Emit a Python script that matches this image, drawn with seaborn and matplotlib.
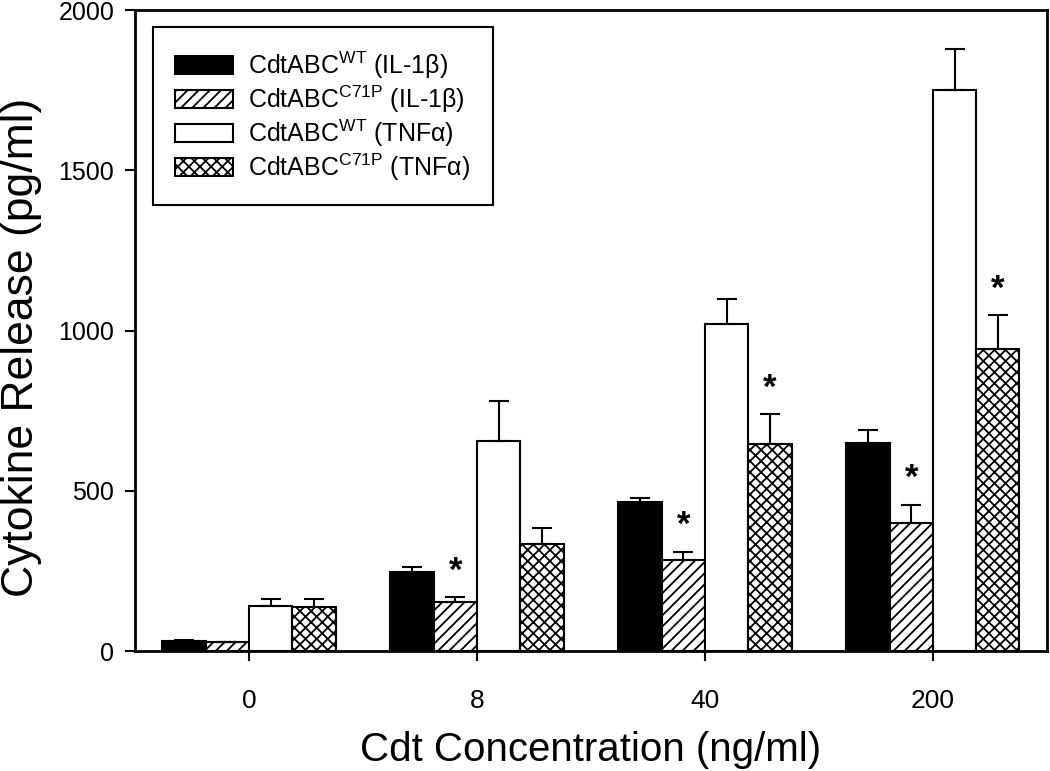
import matplotlib
matplotlib.use('Agg')

import numpy as np
import pandas as pd
import seaborn as sns
import matplotlib.pyplot as plt

conc = ['0', '8', '40', '200']
series = [r'CdtABC$^{\mathrm{WT}}$ (IL-1β)',
          r'CdtABC$^{\mathrm{C71P}}$ (IL-1β)',
          r'CdtABC$^{\mathrm{WT}}$ (TNFα)',
          r'CdtABC$^{\mathrm{C71P}}$ (TNFα)']

wt_il1b = [30, 247, 466, 650]
c71p_il1b = [27, 154, 284, 400]
wt_tnfa = [140, 656, 1020, 1752]
c71p_tnfa = [138, 333, 645, 942]

# upper error (SEM) for each bar
err_wt_il1b = [3, 14, 12, 40]
err_c71p_il1b = [0, 14, 25, 56]
err_wt_tnfa = [22, 123, 77, 125]
err_c71p_tnfa = [24, 51, 94, 105]

# asterisks (significant vs WT)
sig_c71p_il1b = [False, True, True, True]
sig_c71p_tnfa = [False, False, True, True]

means = [wt_il1b, c71p_il1b, wt_tnfa, c71p_tnfa]
errs = [err_wt_il1b, err_c71p_il1b, err_wt_tnfa, err_c71p_tnfa]
sigs = [[False] * 4, sig_c71p_il1b, [False] * 4, sig_c71p_tnfa]

df = pd.DataFrame({
    'conc': conc * 4,
    'series': np.repeat(series, 4),
    'value': np.concatenate(means),
})

sns.set_style('ticks')
plt.rcParams['font.family'] = ['Liberation Sans', 'DejaVu Sans']
plt.rcParams['mathtext.fontset'] = 'custom'
plt.rcParams['mathtext.rm'] = 'Liberation Sans'
plt.rcParams['mathtext.it'] = 'Liberation Sans:italic'
plt.rcParams['mathtext.bf'] = 'Liberation Sans:bold'
plt.rcParams['hatch.linewidth'] = 1.3
plt.rcParams['hatch.color'] = 'black'
for k in ['text.color', 'axes.labelcolor', 'xtick.color', 'ytick.color',
          'axes.edgecolor']:
    plt.rcParams[k] = 'black'

fig = plt.figure(figsize=(10.5, 7.71), dpi=100)
ax = fig.add_axes([0.1286, 0.1556, 0.8684, 0.8314])

sns.barplot(data=df, x='conc', y='value', hue='series', order=conc,
            hue_order=series, palette=['black', 'white', 'white', 'white'],
            edgecolor='black', linewidth=1.5, width=0.76, errorbar=None,
            legend=False, ax=ax)

hatches = ['', '///', '', 'xxx']
for cont, h, e, s in zip(ax.containers, hatches, errs, sigs):
    xs = [b.get_x() + b.get_width() / 2 for b in cont]
    ys = [b.get_height() for b in cont]
    for b in cont:
        b.set_hatch(h)
    ax.errorbar(xs, ys, yerr=[np.zeros(len(e)), e], fmt='none',
                ecolor='black', elinewidth=1.5, capsize=7, capthick=1.5,
                zorder=1)
    for x, y, ee, flag in zip(xs, ys, e, s):
        if flag:
            ax.annotate('*', (x, y + ee), xytext=(0, 12),
                        textcoords='offset points', ha='center',
                        va='baseline', fontsize=25, fontweight='bold')

ax.set_ylim(0, 2000)
ax.set_xlim(-0.5, 3.5)
ax.set_yticks([0, 500, 1000, 1500, 2000])
ax.set_xlabel('Cdt Concentration (ng/ml)', fontsize=29)
ax.set_ylabel('Cytokine Release (pg/ml)', fontsize=32)
ax.xaxis.set_label_coords(0.5, -0.124)
ax.yaxis.set_label_coords(-0.102, 0.474)
ax.tick_params(axis='y', labelsize=18, direction='out', length=7, width=1.5,
               pad=8)
ax.tick_params(axis='x', labelsize=19, direction='out', length=7, width=1.5,
               pad=20)
for sp in ax.spines.values():
    sp.set_linewidth(2)

leg = ax.legend(ax.containers, series, loc='upper left',
                bbox_to_anchor=(0.0197, 0.9735), borderaxespad=0,
                fontsize=18, frameon=True, fancybox=False,
                edgecolor='black', framealpha=1,
                handlelength=2.3, handleheight=0.7, labelspacing=0.1,
                borderpad=0.9, handletextpad=0.6)
leg.get_frame().set_linewidth(1.5)

fig.savefig('out.png', dpi=100)
